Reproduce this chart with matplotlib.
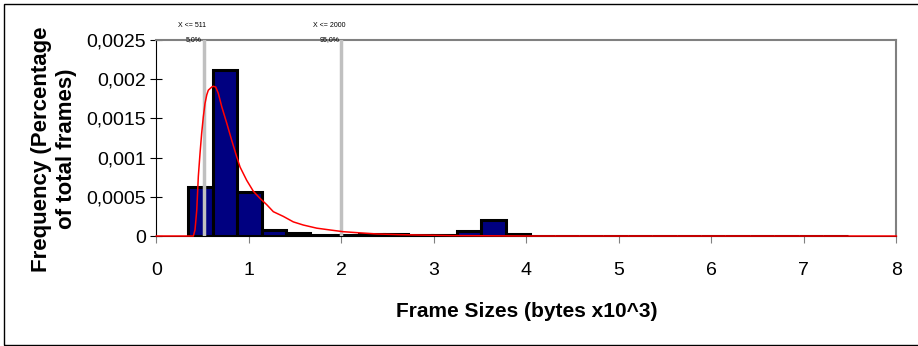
import numpy as np
import matplotlib
matplotlib.use("Agg")
from matplotlib import pyplot as plt
from matplotlib.patches import Rectangle

plt.rcParams['font.family'] = ['Liberation Sans', 'DejaVu Sans']

# histogram bins (x10^3 bytes)
bin_start = 0.345
bin_width = 0.264
freq = [0.00063, 0.00212, 0.00056, 0.000077, 0.000034, 0.000015, 0.000012,
        0.000022, 0.000028, 0.000015, 0.000012, 0.00006, 0.0002, 0.000025,
        0.000005, 0.000005, 0.000005, 0.000005, 0.000005, 0.000005, 0.000005,
        0.000005, 0.000005, 0.000005, 0.000005, 0.000005, 0.000005]

# fitted curve
fit_x = [0.0, 0.40, 0.418, 0.437, 0.454, 0.472, 0.49, 0.508, 0.526, 0.545,
         0.562, 0.599, 0.616, 0.642, 0.67, 0.707, 0.761, 0.815, 0.869, 0.905,
         0.977, 1.049, 1.121, 1.193, 1.265, 1.373, 1.481, 1.589, 1.734, 1.878,
         2.02, 2.166, 2.383, 2.635, 3.2, 4.0, 8.0]
fit_y = [0.0, 0.0, 0.0000765, 0.00033, 0.00076, 0.00105, 0.00131, 0.00152,
         0.00169, 0.0018, 0.00186, 0.0019, 0.00191, 0.0019, 0.00182, 0.00165,
         0.00144, 0.00122, 0.00101, 0.00088, 0.00071, 0.00057, 0.00048, 0.0004,
         0.00031, 0.00025, 0.00018, 0.00014, 0.0001, 0.000077, 0.000055,
         0.000043, 0.000026, 0.000017, 0.000005, 0.0, 0.0]

# percentile markers
marks = [0.511, 2.0]
mark_top = ["X <= 511", "X <= 2000"]
mark_pct = ["5,0%", "95,0%"]

yticks = [0, 0.0005, 0.001, 0.0015, 0.002, 0.0025]
ytick_labels = ["0", "0,0005", "0,001", "0,0015", "0,002", "0,0025"]
xticks = [0, 1, 2, 3, 4, 5, 6, 7, 8]

fig = plt.figure(figsize=(9.18, 3.46), dpi=100)
ax = fig.add_axes([0.1703, 0.3179, 0.8061, 0.5665])

edges = bin_start + bin_width * np.arange(len(freq))
ax.bar(edges, freq, width=bin_width, align='edge', color='#000080',
       edgecolor='black', linewidth=2.2, zorder=2)

for m in marks:
    ax.axvline(m, color='#c0c0c0', lw=2.5, zorder=3)

ax.plot(fit_x, fit_y, color='red', lw=1.1, zorder=4, clip_on=False)

for m, t, p in zip(marks, mark_top, mark_pct):
    ax.text(m - 0.13, 1.075, t, transform=ax.get_xaxis_transform(),
            ha='center', va='center', fontsize=5)
    ax.text(m - 0.02, 1.0, p, transform=ax.get_xaxis_transform(),
            ha='right', va='center', fontsize=5)

ax.set_xlim(0, 8)
ax.set_ylim(0, 0.0025)
ax.set_xticks(xticks)
ax.set_xticklabels([str(v) for v in xticks])
ax.set_yticks(yticks)
ax.set_yticklabels(ytick_labels)
ax.tick_params(axis='x', direction='out', length=5, pad=14, labelsize=14,
               color='#808080')
ax.tick_params(axis='y', direction='inout', length=9, pad=3, labelsize=14)

for s in ['top', 'right']:
    ax.spines[s].set_color('#808080')
    ax.spines[s].set_linewidth(1.5)
ax.spines['left'].set_color('black')
ax.spines['bottom'].set_color('black')

ax.set_xlabel("Frame Sizes (bytes x10^3)", fontsize=15, fontweight='bold',
              labelpad=16)
fig.text(0.059, 0.57, "Frequency (Percentage\nof total frames)", rotation=90,
         ha='center', va='center', multialignment='center', fontsize=16,
         fontweight='bold', linespacing=1.25)

fig.patches.append(Rectangle((0.0044, 0.003), 1.0, 0.9855, fill=False,
                             edgecolor='black', lw=1,
                             transform=fig.transFigure, figure=fig))

fig.savefig("out.png", dpi=100)
